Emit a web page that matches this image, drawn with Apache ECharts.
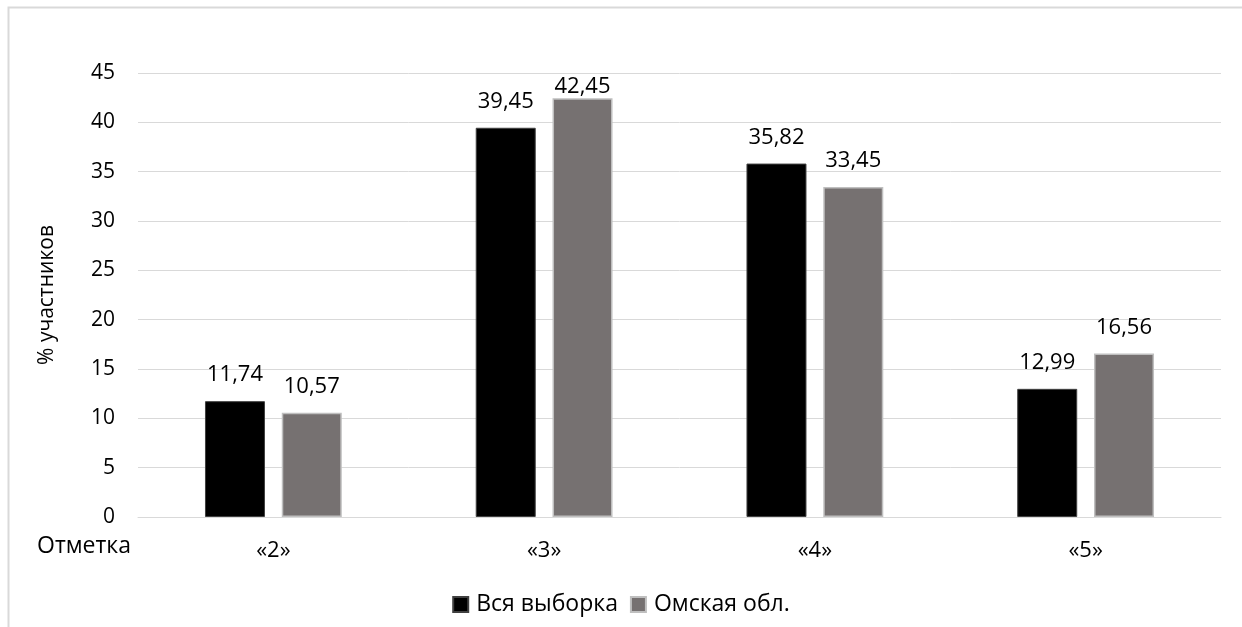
<!DOCTYPE html>
<html><head><meta charset="utf-8">
<script src="https://cdn.jsdelivr.net/npm/echarts@6/dist/echarts.min.js"></script>
<style>html,body{margin:0;padding:0;background:#fff}#c{width:1242px;height:627px}</style>
</head><body><div id="c"></div>
<script>
const categories = ['«2»', '«3»', '«4»', '«5»'];
const seriesNames = ['Вся выборка', 'Омская обл.'];
const allSample = [11.74, 39.45, 35.82, 12.99];
const omsk = [10.57, 42.45, 33.45, 16.56];
const yTicks = [0, 5, 10, 15, 20, 25, 30, 35, 40, 45];
const yName = '% участников';
const xName = 'Отметка';

const font = '"Open Sans", "Noto Sans", sans-serif';
const chart = echarts.init(document.getElementById('c'));
const fmt = p => p.value.toFixed(2).replace('.', ',');
const yMax = yTicks[yTicks.length - 1];
// labels near the top of the plot are pushed down to stay inside it (as in the original)
const toItems = arr => arr.map(v => ({ value: v, label: { distance: v > yMax - 4 ? 0 : 15 } }));
chart.setOption({
  animation: false,
  textStyle: { fontFamily: font },
  graphic: [
    { type: 'rect', shape: { x: 8.5, y: 7.5, width: 1250, height: 640 }, style: { fill: 'none', stroke: '#d9d9d9', lineWidth: 2 } },
    { type: 'text', right: 1242 - 131, top: 535, style: { text: xName, font: '23px ' + font, fill: '#000', textAlign: 'right' } }
  ],
  grid: { left: 138, right: 21, top: 73, bottom: 110 },
  legend: {
    bottom: 6, left: 'center', itemWidth: 15, itemHeight: 15, itemGap: 12, icon: 'rect',
    textStyle: { fontSize: 23, color: '#000', fontFamily: font, padding: [0, 0, 0, 3] },
    data: seriesNames
  },
  xAxis: {
    type: 'category', data: categories,
    axisLine: { lineStyle: { color: '#d9d9d9', width: 1 } },
    axisTick: { show: false },
    axisLabel: { fontSize: 22, color: '#000', margin: 23, fontFamily: font }
  },
  yAxis: {
    type: 'value', min: yTicks[0], max: yMax, interval: 5,
    name: yName, nameLocation: 'middle', nameGap: 80, nameRotate: 90,
    nameTextStyle: { fontSize: 21, color: '#000', fontFamily: font },
    axisLine: { show: false }, axisTick: { show: false },
    axisLabel: { fontSize: 21, color: '#000', margin: 23, fontFamily: font },
    splitLine: { lineStyle: { color: '#d9d9d9', width: 1 } }
  },
  series: [
    { name: seriesNames[0], type: 'bar', data: toItems(allSample), barWidth: 60, barGap: '28%',
      itemStyle: { color: '#000000', borderColor: '#404040', borderWidth: 1 },
      label: { show: true, position: 'top', fontSize: 22, color: '#000', formatter: fmt, fontFamily: font } },
    { name: seriesNames[1], type: 'bar', data: toItems(omsk), barWidth: 60,
      itemStyle: { color: '#767171', borderColor: '#bfbfbf', borderWidth: 1.5 },
      label: { show: true, position: 'top', fontSize: 22, color: '#000', formatter: fmt, fontFamily: font } }
  ]
});
</script></body></html>
